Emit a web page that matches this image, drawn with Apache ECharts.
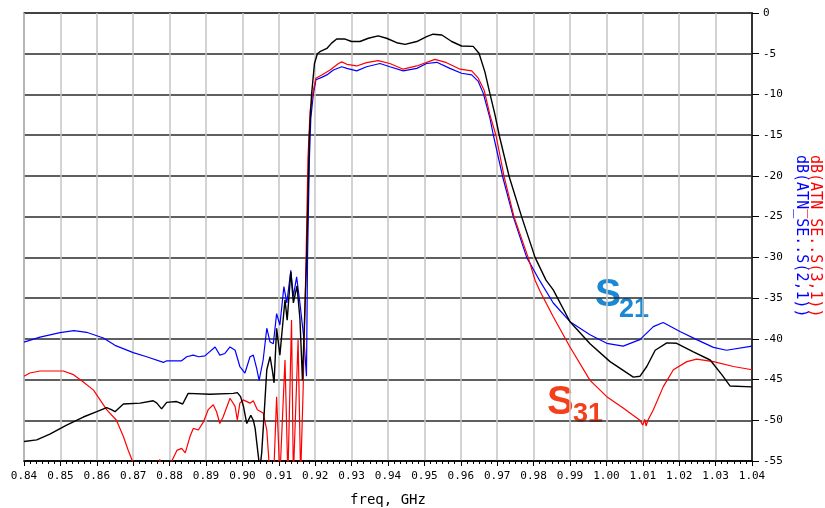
<!DOCTYPE html>
<html>
<head>
<meta charset="utf-8">
<script src="https://cdn.jsdelivr.net/npm/echarts@6/dist/echarts.min.js"></script>
<style>
  html, body { margin: 0; padding: 0; background: #fff; }
  #main { width: 825px; height: 508px; }
</style>
</head>
<body>
<div id="main"></div>
<script>
  // frequency (GHz) and dB values
  var freqBlk = [0.8400, 0.8435, 0.8471, 0.8517, 0.8563, 0.8600, 0.8627, 0.8640, 0.8650, 0.8673,
    0.8719, 0.8755, 0.8765, 0.8778, 0.8792, 0.8819, 0.8836, 0.8851, 0.8911, 0.8975,
    0.8986, 0.8995, 0.9003, 0.9012, 0.9023, 0.9030, 0.9035, 0.9044, 0.9048, 0.9053,
    0.9060, 0.9067, 0.9076, 0.9082, 0.9087, 0.9094, 0.9103, 0.9117, 0.9123, 0.9133,
    0.9140, 0.9150, 0.9158, 0.9165, 0.9175, 0.9177, 0.9184, 0.9190, 0.9198, 0.9206,
    0.9213, 0.9232, 0.9245, 0.9259, 0.9282, 0.9300, 0.9323, 0.9346, 0.9373, 0.9396,
    0.9424, 0.9447, 0.9479, 0.9506, 0.9524, 0.9548, 0.9575, 0.9602, 0.9634, 0.9650,
    0.9666, 0.9680, 0.9694, 0.9706, 0.9733, 0.9767, 0.9804, 0.9834, 0.9854, 0.9900,
    0.9955, 1.0010, 1.0074, 1.0092, 1.0111, 1.0134, 1.0166, 1.0193, 1.0239, 1.0285,
    1.0317, 1.0340, 1.0400];
  var dbBlk = [-52.6, -52.4, -51.7, -50.6, -49.6, -48.95, -48.45, -48.7, -48.95, -48.0,
    -47.9, -47.6, -47.9, -48.6, -47.8, -47.7, -48.0, -46.7, -46.8, -46.7,
    -46.6, -47.1, -48.3, -50.4, -49.4, -50.0, -51.0, -54.5, -56.0, -54.0,
    -49.0, -43.8, -42.2, -43.8, -45.4, -38.7, -42.0, -35.2, -37.7, -31.8,
    -35.6, -33.5, -37.5, -45.1, -32.0, -29.0, -15.0, -10.0, -6.2, -5.0,
    -4.75, -4.35, -3.7, -3.2, -3.2, -3.5, -3.5, -3.1, -2.8, -3.1,
    -3.65, -3.85, -3.5, -2.9, -2.6, -2.7, -3.5, -4.05, -4.1, -4.95,
    -7.2, -9.9, -12.5, -15.1, -20.1, -25.0, -30.0, -32.8, -34.0, -37.9,
    -40.6, -42.8, -44.7, -44.6, -43.4, -41.4, -40.5, -40.55, -41.6, -42.6,
    -44.4, -45.8, -45.9];

  var freqS21 = [0.8400, 0.8444, 0.8499, 0.8537, 0.8572, 0.8618, 0.8650, 0.8700, 0.8737, 0.8783,
    0.8792, 0.8833, 0.8847, 0.8865, 0.8880, 0.8897, 0.8925, 0.8938, 0.8952, 0.8966,
    0.8980, 0.8993, 0.9007, 0.9021, 0.9030, 0.9039, 0.9046, 0.9057, 0.9067, 0.9076,
    0.9085, 0.9094, 0.9103, 0.9114, 0.9122, 0.9133, 0.9140, 0.9149, 0.9158, 0.9169,
    0.9176, 0.9179, 0.9184, 0.9188, 0.9195, 0.9202, 0.9218, 0.9232, 0.9250, 0.9273,
    0.9287, 0.9314, 0.9341, 0.9378, 0.9405, 0.9442, 0.9479, 0.9506, 0.9534, 0.9570,
    0.9602, 0.9630, 0.9648, 0.9662, 0.9680, 0.9690, 0.9715, 0.9744, 0.9781, 0.9816,
    0.9854, 0.9900, 0.9955, 1.0001, 1.0046, 1.0092, 1.0129, 1.0156, 1.0202, 1.0248,
    1.0294, 1.0330, 1.0400];
  var dbS21 = [-40.4, -39.8, -39.25, -39.0, -39.2, -39.9, -40.8, -41.7, -42.2, -42.9,
    -42.7, -42.7, -42.2, -42.0, -42.2, -42.1, -41.0, -42.0, -41.8, -41.0,
    -41.4, -43.4, -44.2, -42.2, -42.0, -43.6, -45.1, -42.6, -38.7, -40.4,
    -40.6, -36.9, -38.3, -33.6, -35.6, -31.6, -34.8, -32.4, -35.6, -40.0,
    -44.6, -30.0, -18.0, -12.9, -9.9, -8.2, -7.9, -7.6, -7.0, -6.6,
    -6.8, -7.1, -6.6, -6.2, -6.6, -7.1, -6.8, -6.2, -6.05, -6.8,
    -7.4, -7.6, -8.4, -9.9, -12.9, -15.1, -20.1, -25.0, -30.0, -32.8,
    -35.6, -37.9, -39.5, -40.55, -40.9, -40.1, -38.5, -38.0, -39.1, -40.1,
    -41.05, -41.4, -40.9];

  var freqS31 = [0.8400, 0.8416, 0.8444, 0.8508, 0.8536, 0.8563, 0.8591, 0.8609, 0.8627, 0.8654,
    0.8673, 0.8686, 0.8697, 0.8712, 0.8740, 0.8765, 0.8773, 0.8780, 0.8800, 0.8806,
    0.8820, 0.8833, 0.8843, 0.8856, 0.8865, 0.8879, 0.8893, 0.8906, 0.8920, 0.8929,
    0.8938, 0.8947, 0.8966, 0.8980, 0.8986, 0.8993, 0.9002, 0.9021, 0.9030, 0.9041,
    0.9057, 0.9067, 0.9076, 0.9085, 0.9094, 0.9103, 0.9117, 0.9125, 0.9135, 0.9140,
    0.9153, 0.9160, 0.9167, 0.9175, 0.9180, 0.9186, 0.9195, 0.9202, 0.9218, 0.9241,
    0.9264, 0.9273, 0.9287, 0.9314, 0.9341, 0.9373, 0.9405, 0.9442, 0.9479, 0.9529,
    0.9561, 0.9598, 0.9630, 0.9648, 0.9664, 0.9680, 0.9697, 0.9719, 0.9746, 0.9785,
    0.9804, 0.9818, 0.9854, 0.9900, 0.9955, 1.0001, 1.0046, 1.0092, 1.0100, 1.0105,
    1.0109, 1.0114, 1.0129, 1.0156, 1.0184, 1.0221, 1.0248, 1.0294, 1.0349, 1.0400];
  var dbS31 = [-44.6, -44.2, -43.95, -43.95, -44.4, -45.3, -46.3, -47.5, -48.7, -50.0,
    -52.0, -53.65, -54.9, -57.5, -59.0, -57.0, -54.8, -56.5, -58.0, -55.0,
    -53.7, -53.45, -54.0, -52.0, -51.0, -51.2, -50.2, -48.7, -48.1, -48.95,
    -50.4, -49.6, -47.3, -48.3, -50.0, -47.9, -47.5, -47.9, -47.6, -48.7,
    -49.1, -51.2, -57.0, -58.0, -47.1, -57.0, -42.6, -57.0, -37.7, -57.0,
    -40.1, -57.0, -46.0, -30.0, -18.0, -12.0, -9.5, -8.0, -7.6, -7.0,
    -6.2, -6.0, -6.3, -6.5, -6.1, -5.85, -6.2, -6.9, -6.5, -5.7,
    -6.1, -6.9, -7.1, -8.0, -9.45, -12.5, -15.1, -20.1, -25.0, -30.0,
    -32.8, -34.2, -37.3, -41.0, -45.1, -47.1, -48.5, -50.0, -50.6, -49.9,
    -50.7, -50.0, -48.7, -45.9, -43.8, -42.8, -42.5, -42.8, -43.4, -43.8];

  function pairs(xs, ys) {
    var out = [];
    for (var i = 0; i < xs.length; i++) {
      out.push([xs[i], ys[i]]);
    }
    return out;
  }

  var mono = 'DejaVu Sans Mono';
  var chart = echarts.init(document.getElementById('main'));
  chart.setOption({
    animation: false,
    backgroundColor: '#fff',
    grid: {
      left: 24,
      right: 73,
      top: 13,
      bottom: 47,
      outerBoundsMode: 'none',
      show: true,
      borderColor: '#666',
      borderWidth: 1.5
    },
    xAxis: {
      type: 'value',
      min: 0.84,
      max: 1.04,
      interval: 0.01,
      name: 'freq, GHz',
      nameLocation: 'middle',
      nameGap: 32,
      nameTextStyle: { fontFamily: mono, fontSize: 14, color: '#000' },
      axisLine: { show: true, onZero: false, lineStyle: { color: '#000', width: 1.5 } },
      axisTick: { show: true, length: 5, lineStyle: { color: '#000' } },
      minorTick: { show: true, splitNumber: 6, length: 3, lineStyle: { color: '#000' } },
      axisLabel: {
        fontFamily: mono, fontSize: 11, color: '#000', margin: 10,
        formatter: function (v) { return v.toFixed(2); }
      },
      splitLine: { show: true, lineStyle: { color: '#c4c4c4', width: 1.5 } }
    },
    yAxis: {
      type: 'value',
      position: 'right',
      min: -55,
      max: 0,
      interval: 5,
      axisLine: { show: true, lineStyle: { color: '#333', width: 2 } },
      axisTick: { show: true, inside: false, length: 7, lineStyle: { color: '#000' } },
      axisLabel: { fontFamily: mono, fontSize: 11, color: '#000', margin: 11 },
      splitLine: { show: true, lineStyle: { color: '#2a2a2a', width: 1.5 } }
    },
    graphic: [
      {
        type: 'text', left: 595, top: 276,
        style: { text: 'S', fill: '#1a88d2', font: 'bold 39px "Liberation Sans"' }
      },
      {
        type: 'text', left: 619, top: 296,
        style: { text: '21', fill: '#1a88d2', font: 'bold 27px "Liberation Sans"' }
      },
      {
        type: 'text', left: 547, top: 383,
        style: { text: 'S', fill: '#f43f1a', font: 'bold 40px "Liberation Sans"' }
      },
      {
        type: 'text', left: 573, top: 401,
        style: { text: '31', fill: '#f43f1a', font: 'bold 27px "Liberation Sans"' }
      },
      {
        type: 'text', x: 822, y: 155, rotation: -Math.PI / 2,
        style: { text: 'dB(ATN_SE..S(3,1))', fill: '#ff0000', font: '15px "DejaVu Sans Mono"', textVerticalAlign: 'top' }
      },
      {
        type: 'text', x: 808, y: 155, rotation: -Math.PI / 2,
        style: { text: 'dB(ATN_SE..S(2,1))', fill: '#0000ff', font: '15px "DejaVu Sans Mono"', textVerticalAlign: 'top' }
      }
    ],
    series: [
      {
        name: 'dB(ATN_SE..S(2,1))',
        type: 'line',
        showSymbol: false,
        data: pairs(freqS21, dbS21),
        lineStyle: { color: '#0000ff', width: 1.2 }
      },
      {
        name: 'dB(ATN_SE..S(3,1))',
        type: 'line',
        showSymbol: false,
        data: pairs(freqS31, dbS31),
        lineStyle: { color: '#ff0000', width: 1.2 }
      },
      {
        name: 'ref',
        type: 'line',
        showSymbol: false,
        data: pairs(freqBlk, dbBlk),
        lineStyle: { color: '#000000', width: 1.4 }
      }
    ]
  });
</script>
</body>
</html>
